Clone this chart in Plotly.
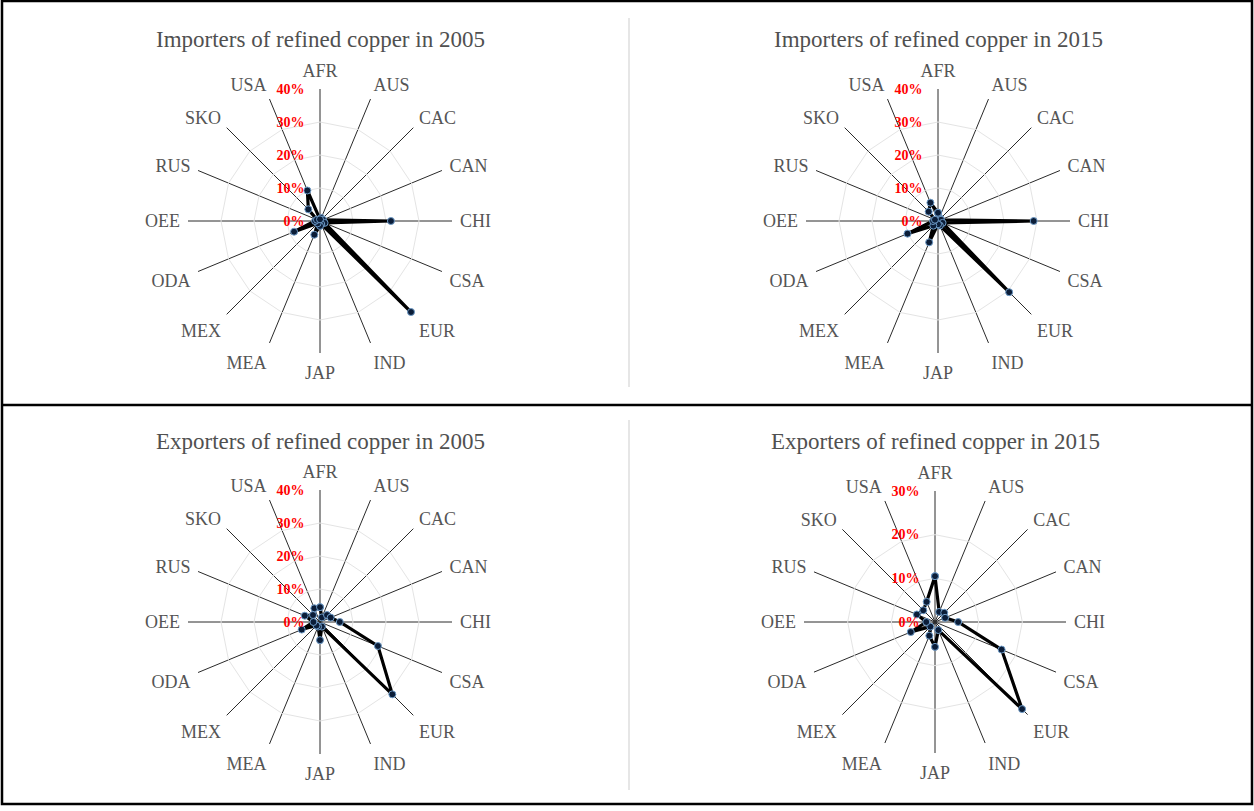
import plotly.graph_objects as go

regions = ['AFR', 'AUS', 'CAC', 'CAN', 'CHI', 'CSA', 'EUR', 'IND',
           'JAP', 'MEA', 'MEX', 'ODA', 'OEE', 'RUS', 'SKO', 'USA']

# shares (%)
imports_2005 = [0.5, 1, 0.5, 1, 21.5, 1.5, 39, 1, 1.5, 4.5, 1, 8.5, 1.5, 1, 5, 10]
imports_2015 = [2.5, 1, 1, 1, 29, 1.5, 30.5, 1.5, 1, 7, 2, 10, 1.5, 1, 4, 6]
exports_2005 = [4.5, 1.5, 3, 3.5, 6, 19, 31, 1.5, 5.5, 1.5, 1.5, 6, 2, 5, 3, 4.5]
exports_2015 = [10.5, 2.5, 3, 2.5, 5.3, 16.5, 28.2, 2, 5.7, 3.4, 1.5, 6, 2, 4.5, 3.8, 5]

titles = ['Importers of refined copper in 2005', 'Importers of refined copper in 2015',
          'Exporters of refined copper in 2005', 'Exporters of refined copper in 2015']
series = [imports_2005, imports_2015, exports_2005, exports_2015]
rmax = [40, 40, 40, 30]

W, H = 1254, 811
# centres (px) and radius of each radar
centres = [(320, 221, 132), (938, 221, 132), (320, 622, 132), (935, 622, 131)]

SERIF = 'Liberation Serif'
fig = go.Figure()
for i, (vals, title) in enumerate(zip(series, titles)):
    name = 'polar' if i == 0 else f'polar{i + 1}'
    cx, cy, r = centres[i]
    fig.add_trace(go.Scatterpolar(
        r=vals + vals[:1], theta=regions + regions[:1],
        mode='lines+markers', subplot=name, showlegend=False,
        line=dict(color='black', width=3.2),
        marker=dict(size=7, color='#0b1d38', line=dict(color='#6f9cc8', width=1))))
    fig.update_layout(**{name: dict(
        domain=dict(x=[(cx - r) / W, (cx + r) / W],
                    y=[(H - cy - r) / H, (H - cy + r) / H]),
        gridshape='linear', bgcolor='white',
        angularaxis=dict(direction='clockwise', rotation=90,
                         gridcolor='#2a2a2a', gridwidth=1.1, showline=False,
                         ticks='outside', ticklen=4, tickcolor='rgba(0,0,0,0)',
                         tickfont=dict(family=SERIF, size=18, color='#555555')),
        radialaxis=dict(range=[0, rmax[i]], dtick=10, ticksuffix='%', angle=90,
                        tickangle=90, side='counterclockwise', showline=False,
                        ticks='outside', ticklen=10, tickcolor='rgba(0,0,0,0)',
                        gridcolor='#e4e4e4', gridwidth=1,
                        tickfont=dict(family=SERIF, size=14, color='red', weight='bold')))})
    fig.add_annotation(x=cx / W, y=1 - (cy - 181) / H, xref='paper', yref='paper',
                       text=title, showarrow=False, xanchor='center', yanchor='middle',
                       font=dict(family=SERIF, size=23, color='#505050'))

# table borders
fig.add_shape(type='rect', xref='paper', yref='paper', x0=2 / W, x1=1 - 2 / W,
              y0=1 - 804 / H, y1=1 - 1 / H, line=dict(color='black', width=2.5))
fig.add_shape(type='line', xref='paper', yref='paper', x0=2 / W, x1=1 - 2 / W,
              y0=1 - 405 / H, y1=1 - 405 / H, line=dict(color='black', width=2.5))
for y0, y1 in [(18, 387), (420, 790)]:
    fig.add_shape(type='line', xref='paper', yref='paper', x0=629 / W, x1=629 / W,
                  y0=1 - y0 / H, y1=1 - y1 / H, line=dict(color='#e6e6e6', width=2))

fig.update_layout(width=W, height=H, margin=dict(l=0, r=0, t=0, b=0),
                  paper_bgcolor='white', plot_bgcolor='white')
fig.write_html("out.html", config={'displayModeBar': False},
               post_script="document.body.style.margin='0';")
